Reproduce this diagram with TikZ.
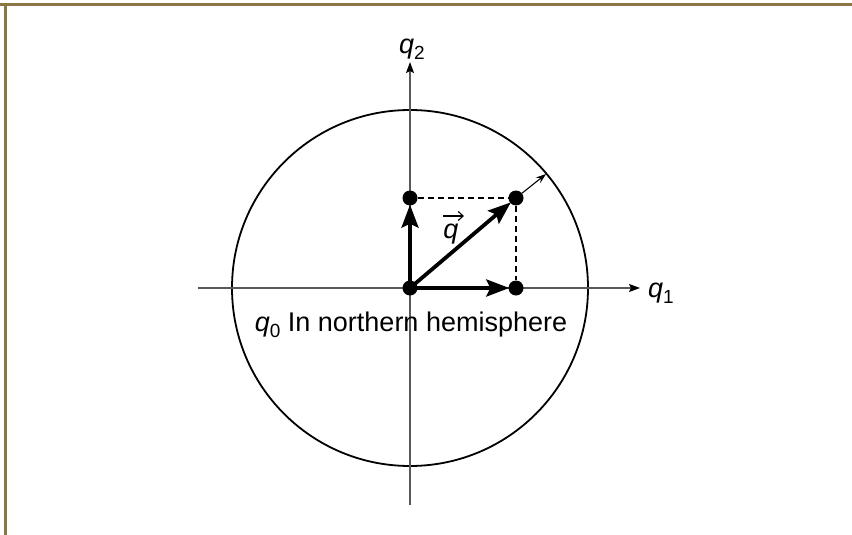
\documentclass[tikz,border=0pt]{standalone}
\usepackage{fontspec}
\setmainfont{Liberation Sans}
\usetikzlibrary{arrows.meta}
\definecolor{framecol}{HTML}{8B7645}
\newcommand\qlab[1]{\textit{q}\raisebox{-0.42ex}{\fontsize{19}{19}\selectfont #1}}
\begin{document}
\begin{tikzpicture}[x=1pt,y=-1pt,
  axis/.style={draw=black!65,line width=1.1pt,-{Stealth[length=11pt,width=8pt,inset=2pt,black]}},
  dot/.style={circle,fill=black,inner sep=0pt,minimum size=15pt},
  bigarrow/.style={line width=3.8pt,-{Stealth[length=23pt,width=17pt,inset=4pt]},shorten >=-1pt},
  dashline/.style={line width=1.2pt,dash pattern=on 6pt off 4pt},
  lab/.style={inner sep=0pt,font=\fontsize{27}{27}\selectfont}]
\useasboundingbox (0,0) rectangle (852,535);
\fill[framecol] (0,3) rectangle (852,6);
\fill[framecol] (4,3) rectangle (7,535);
% circle
\node[draw,circle,line width=1.8pt,minimum size=356pt,inner sep=0pt] (c) at (410,288) {};
% axes
\coordinate (xl) at (198,288);
\coordinate (xr) at (640,288);
\coordinate (yb) at (410,505);
\coordinate (yt) at (410,62);
\draw[axis] (xl) -- (xr);
\draw[axis] (yb) -- (yt);
\node[lab,anchor=west] (q1) at (648,293) {\qlab{1}};
\node[lab,anchor=south] (q2) at (412,60) {\qlab{2}};
% points
\node[dot] (o) at (410,288) {};
\node[dot] (px) at (516,288) {};
\node[dot] (py) at (410,198) {};
\node[dot] (pq) at (516,198) {};
\draw[dashline] (py) -- (pq);
\draw[dashline] (pq) -- (px);
\draw[bigarrow] (o.center) -- (px);
\draw[bigarrow] (o.center) -- (py);
\draw[bigarrow] (o.center) -- (pq);
\coordinate (tip) at (546,174);
\draw[line width=1.1pt,-{Stealth[length=10pt,width=7pt]}] (pq) -- (tip);
\node[lab,anchor=base] (qv) at (451,238) {\textit{q}};
\coordinate (va) at (443,216);
\coordinate (vb) at (464,216);
\draw[line width=1.1pt,-{Straight Barb[length=5pt,width=9pt]}] (va) -- (vb);
\node[lab] (txt) at (411,325) {\qlab{0} In northern hemisphere};
\end{tikzpicture}
\end{document}
